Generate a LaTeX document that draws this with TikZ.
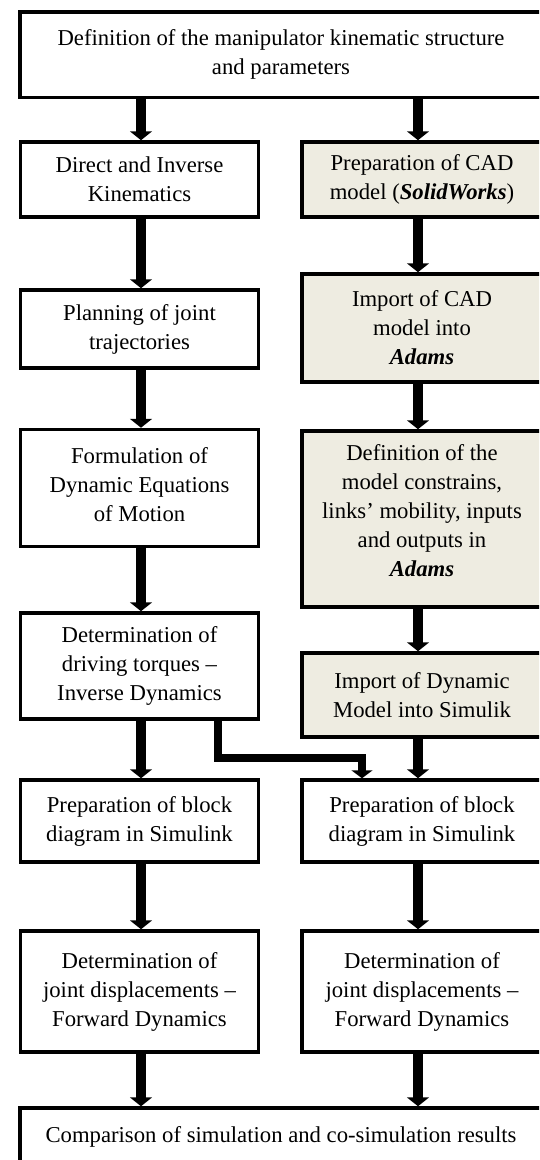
\documentclass[tikz,border=0pt]{standalone}
\usepackage{fontspec}
\setmainfont{Liberation Serif}
\usetikzlibrary{arrows.meta}
\definecolor{tan}{HTML}{EEECE1}
\begin{document}
\begin{tikzpicture}[x=1pt,y=-1pt,
  box/.style={draw=black, line width=3.5pt, fill=white, inner sep=0pt, align=center,
    font=\fontsize{22.7}{29}\selectfont},
  lbox/.style={box, minimum width=238pt},
  rbox/.style={box, minimum width=240pt},
  wbox/.style={box, minimum width=522pt},
  shade/.style={fill=tan},
  arr/.style={line width=10pt, -{Triangle[width=22pt,length=9pt]}},
  elb/.style={line width=7.5pt, line join=miter, -{Triangle[width=21pt,length=8pt]}}]
\useasboundingbox (0,0) rectangle (539,1160);
\fill[white] (0,0) rectangle (539,1160);
\clip (0,0) rectangle (539,1160);

\node[wbox, minimum height=85.5pt] (top) at (281,54.75) {Definition of the manipulator kinematic structure\\and parameters};

\node[lbox, minimum height=75pt] (L1) at (139.5,179.5) {Direct and Inverse\\Kinematics};
\node[lbox, minimum height=78pt] (L2) at (139.5,329) {Planning of joint\\trajectories};
\node[lbox, minimum height=117pt, text depth=8pt] (L3) at (139.5,488) {Formulation of\\Dynamic Equations\\of Motion};
\node[lbox, minimum height=106pt] (L4) at (139.5,666) {Determination of\\driving torques --\\Inverse Dynamics};
\node[lbox, minimum height=82pt] (L5) at (139.5,821) {Preparation of block\\diagram in Simulink};
\node[lbox, minimum height=121pt] (L6) at (139.5,991.5) {Determination of\\joint displacements --\\Forward Dynamics};

\node[rbox, shade, minimum height=75pt] (R1) at (422,179.5) {Preparation of CAD\\model (\textbf{\textit{SolidWorks}})};
\node[rbox, shade, minimum height=108pt] (R2) at (422,328) {Import of CAD\\model into\\\textbf{\textit{Adams}}};
\node[rbox, shade, minimum height=176pt, text depth=18pt] (R3) at (422,519) {Definition of the\\model constrains,\\links’ mobility, inputs\\and outputs in\\\textbf{\textit{Adams}}};
\node[rbox, shade, minimum height=84pt] (R4) at (422,695) {Import of Dynamic\\Model into Simulik};
\node[rbox, minimum height=82pt] (R5) at (422,821) {Preparation of block\\diagram in Simulink};
\node[rbox, minimum height=121pt] (R6) at (422,991.5) {Determination of\\joint displacements --\\Forward Dynamics};

\node[wbox, minimum height=58pt] (bot) at (281,1137) {Comparison of simulation and co-simulation results};

\coordinate (cl) at (141,0);
\coordinate (cr) at (418,0);
\coordinate (e1) at (218,0);
\coordinate (ebend) at (362,758);

\draw[arr] (top.south -| cl) -- (L1.north -| cl);
\draw[arr] (L1.south -| cl) -- (L2.north -| cl);
\draw[arr] (L2.south -| cl) -- (L3.north -| cl);
\draw[arr] (L3.south -| cl) -- (L4.north -| cl);
\draw[arr] (L4.south -| cl) -- (L5.north -| cl);
\draw[arr] (L5.south -| cl) -- (L6.north -| cl);
\draw[arr] (L6.south -| cl) -- (bot.north -| cl);

\draw[arr] (top.south -| cr) -- (R1.north -| cr);
\draw[arr] (R1.south -| cr) -- (R2.north -| cr);
\draw[arr] (R2.south -| cr) -- (R3.north -| cr);
\draw[arr] (R3.south -| cr) -- (R4.north -| cr);
\draw[arr] (R4.south -| cr) -- (R5.north -| cr);
\draw[arr] (R5.south -| cr) -- (R6.north -| cr);
\draw[arr] (R6.south -| cr) -- (bot.north -| cr);

\draw[elb] (L4.south -| e1) |- (ebend) -- (R5.north -| ebend);
\end{tikzpicture}
\end{document}
